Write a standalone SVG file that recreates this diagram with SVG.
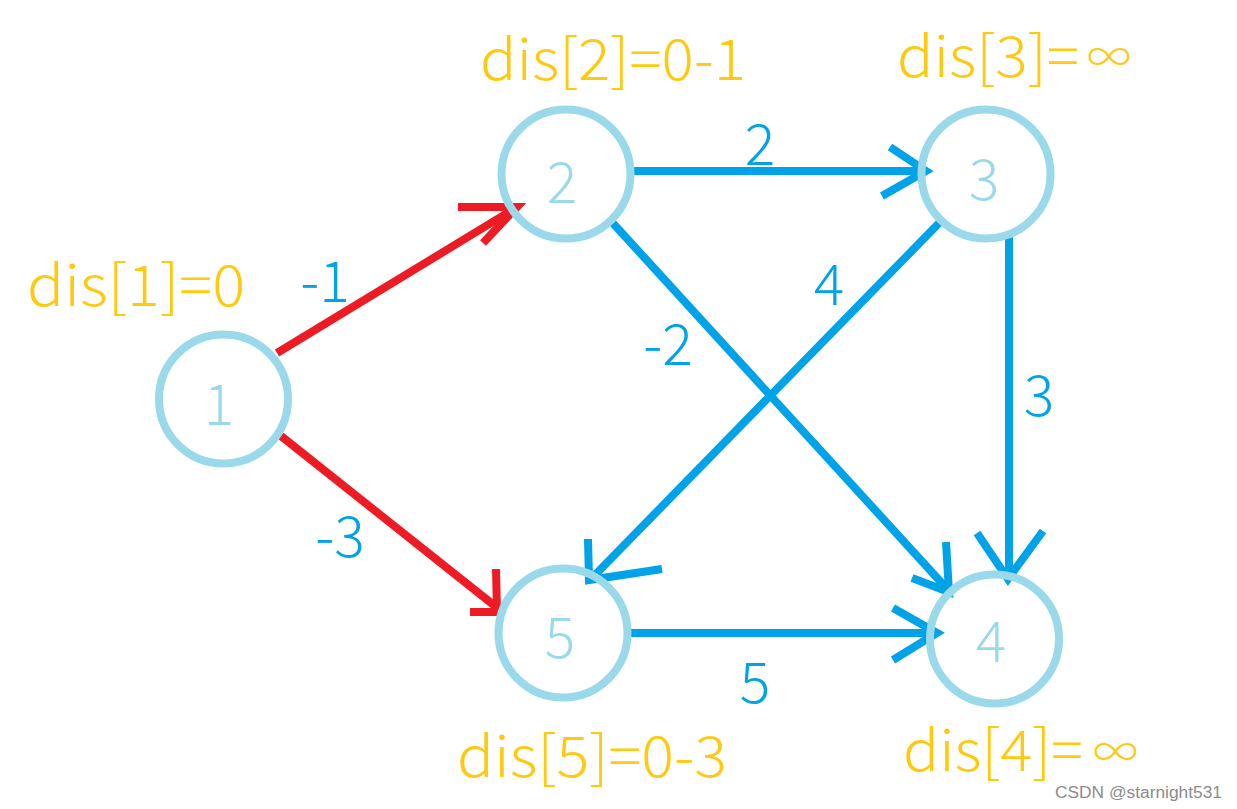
<svg xmlns="http://www.w3.org/2000/svg" width="1237" height="809" viewBox="0 0 1237 809">
<style>
.node{fill:none;stroke:#99D9EA;stroke-width:8}
.nl{fill:#99D9EA;font-family:"Noto Sans CJK SC","Noto Sans",sans-serif;font-weight:300;font-size:57px;text-anchor:middle}
.el{fill:#00A2E8;font-family:"Noto Sans CJK SC","Noto Sans",sans-serif;font-weight:300;font-size:57px;text-anchor:middle}
.dl{fill:#FFC90E;font-family:"Noto Sans CJK SC","Noto Sans",sans-serif;font-weight:300;font-size:57px}
.inf{fill:#FFC90E;font-family:"Noto Sans CJK SC","Noto Sans",sans-serif;font-weight:300;font-size:42px}
.b{fill:none;stroke:#00A2E8;stroke-width:8;stroke-linecap:butt;stroke-linejoin:miter}
.r{fill:none;stroke:#ED1C24;stroke-width:8;stroke-linecap:butt;stroke-linejoin:miter}
.wm{fill:#8C8C8C;font-family:"Liberation Sans",Arial,sans-serif;font-size:16px}
</style>
<rect width="1237" height="809" fill="#FFFFFF"/>
<g id="connectors">
  <g id="e2-3">
    <line class="b" x1="632" y1="171" x2="926" y2="171"/>
    <polyline class="b" points="890,147 926,171 882,196"/>
  </g>
  <g id="e2-4">
    <line class="b" x1="610" y1="220" x2="950" y2="592"/>
    <polyline class="b" points="946,542 949,592 912,578"/>
  </g>
  <g id="e3-5">
    <line class="b" x1="943" y1="219" x2="591" y2="579"/>
    <polyline class="b" points="588,539 589,580 662,569"/>
  </g>
  <g id="e3-4">
    <line class="b" x1="1009" y1="236" x2="1009" y2="578"/>
    <polyline class="b" points="977,533 1008,579 1043,531"/>
  </g>
  <g id="e5-4">
    <line class="b" x1="629" y1="633" x2="936" y2="633"/>
    <polyline class="b" points="893,608 937,633 893,660"/>
  </g>
  <g id="e1-2">
    <line class="r" x1="277" y1="353" x2="514" y2="209"/>
    <polyline class="r" points="458,207 517,207 483,243"/>
  </g>
  <g id="e1-5">
    <line class="r" x1="281" y1="436" x2="500" y2="610"/>
    <polyline class="r" points="496,569 497,612 470,612"/>
  </g>
  <text class="el" x="325" y="302">-1</text>
  <text class="el" x="340" y="557">-3</text>
  <text class="el" x="760" y="165">2</text>
  <text class="el" x="829" y="305">4</text>
  <text class="el" x="668" y="365">-2</text>
  <text class="el" x="1039" y="416">3</text>
  <text class="el" x="755" y="703">5</text>
</g>
<g id="node1">
  <circle class="node" cx="223.5" cy="399" r="64.5"/>
  <text class="nl" x="219" y="425">1</text>
  <text class="dl" x="27" y="306" textLength="218" lengthAdjust="spacingAndGlyphs">dis[1]=0</text>
</g>
<g id="node2">
  <circle class="node" cx="566" cy="174" r="64.5"/>
  <text class="nl" x="562" y="203">2</text>
  <text class="dl" x="480" y="80" textLength="266" lengthAdjust="spacingAndGlyphs">dis[2]=0-1</text>
</g>
<g id="node3">
  <circle class="node" cx="986" cy="174" r="64.5"/>
  <text class="nl" x="984" y="200">3</text>
  <text class="dl" x="897" y="77" textLength="182" lengthAdjust="spacingAndGlyphs">dis[3]=</text>
  <text class="inf" x="1087" y="72" textLength="44" lengthAdjust="spacingAndGlyphs">∞</text>
</g>
<g id="node4">
  <circle class="node" cx="994.5" cy="639" r="64.5"/>
  <text class="nl" x="991" y="662">4</text>
  <text class="dl" x="903" y="771" textLength="180" lengthAdjust="spacingAndGlyphs">dis[4]=</text>
  <text class="inf" x="1093" y="767" textLength="45" lengthAdjust="spacingAndGlyphs">∞</text>
</g>
<g id="node5">
  <circle class="node" cx="563" cy="633" r="64.5"/>
  <text class="nl" x="560" y="658">5</text>
  <text class="dl" x="457" y="777" textLength="270" lengthAdjust="spacingAndGlyphs">dis[5]=0-3</text>
</g>
<text class="wm" x="1055" y="798" textLength="167" lengthAdjust="spacingAndGlyphs">CSDN @starnight531</text>
</svg>
